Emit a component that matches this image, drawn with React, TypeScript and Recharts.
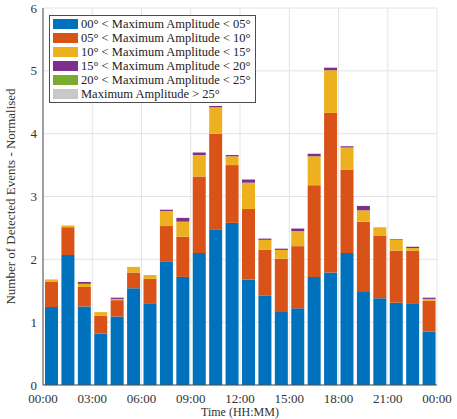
import React from "react"
import {
  BarChart,
  Bar,
  XAxis,
  YAxis,
  CartesianGrid,
} from "recharts"

// hour-of-day bin centres (each bar covers one hour)
const HOURS = [
  0.5, 1.5, 2.5, 3.5, 4.5, 5.5, 6.5, 7.5, 8.5, 9.5, 10.5, 11.5,
  12.5, 13.5, 14.5, 15.5, 16.5, 17.5, 18.5, 19.5, 20.5, 21.5, 22.5, 23.5,
]

const X_TICKS = [0, 3, 6, 9, 12, 15, 18, 21, 24]
const X_TICK_LABELS = ["00:00", "03:00", "06:00", "09:00", "12:00", "15:00", "18:00", "21:00", "00:00"]
const Y_TICKS = [0, 1, 2, 3, 4, 5, 6]

// normalised event counts per amplitude band
const AMP_00_05 = [
  1.24, 2.07, 1.25, 0.82, 1.09, 1.54, 1.3, 1.96, 1.72, 2.1, 2.48, 2.58,
  1.68, 1.42, 1.16, 1.22, 1.72, 1.79, 2.1, 1.48, 1.38, 1.31, 1.29, 0.85,
]
const AMP_05_10 = [
  0.4, 0.44, 0.31, 0.28, 0.26, 0.25, 0.39, 0.57, 0.64, 1.22, 1.52, 0.92,
  1.12, 0.73, 0.85, 0.99, 1.46, 2.54, 1.33, 1.12, 1.0, 0.83, 0.85, 0.49,
]
const AMP_10_15 = [
  0.04, 0.03, 0.05, 0.06, 0.02, 0.09, 0.06, 0.24, 0.24, 0.34, 0.42, 0.14,
  0.42, 0.16, 0.14, 0.24, 0.46, 0.68, 0.35, 0.18, 0.13, 0.17, 0.04, 0.03,
]
const AMP_15_20 = [
  0, 0, 0.03, 0, 0.02, 0, 0, 0.02, 0.06, 0.04, 0.02, 0.02,
  0.05, 0.02, 0.02, 0.04, 0.04, 0.04, 0.02, 0.07, 0, 0.01, 0.02, 0.02,
]
const AMP_20_25 = [
  0, 0, 0, 0, 0, 0, 0, 0, 0, 0, 0, 0,
  0, 0, 0, 0, 0, 0, 0, 0, 0, 0, 0, 0,
]
const AMP_OVER_25 = [
  0, 0, 0, 0, 0, 0, 0, 0, 0, 0, 0, 0,
  0, 0, 0, 0, 0, 0, 0, 0, 0, 0, 0, 0,
]

const SERIES = [
  { key: "a0", name: "00° < Maximum Amplitude < 05°", color: "#0072BD", values: AMP_00_05 },
  { key: "a1", name: "05° < Maximum Amplitude < 10°", color: "#D95319", values: AMP_05_10 },
  { key: "a2", name: "10° < Maximum Amplitude < 15°", color: "#EDB120", values: AMP_10_15 },
  { key: "a3", name: "15° < Maximum Amplitude < 20°", color: "#7E2F8E", values: AMP_15_20 },
  { key: "a4", name: "20° < Maximum Amplitude < 25°", color: "#77AC30", values: AMP_20_25 },
  { key: "a5", name: "Maximum Amplitude > 25°", color: "#c8c8c8", values: AMP_OVER_25 },
]

const data = HOURS.map((h, i) => {
  const row: Record<string, number> = { hour: h }
  SERIES.forEach((s) => {
    row[s.key] = s.values[i]
  })
  return row
})

const FONT = "'Liberation Serif', 'DejaVu Serif', serif"
const AXIS = "#4d4d4d"

// legend drawn as an overlay so it does not eat into the plot area
function LegendBox() {
  return (
    <div
      style={{
        position: "absolute",
        left: 49,
        top: 15,
        background: "#fff",
        border: `1px solid ${AXIS}`,
        padding: "1px 4px 1px 3px",
        fontFamily: FONT,
        fontSize: 12.5,
        color: "#222",
        lineHeight: "14px",
      }}
    >
      {SERIES.map((s) => (
        <div key={s.key} style={{ display: "flex", alignItems: "center", height: 14 }}>
          <span
            style={{
              display: "inline-block",
              width: 25,
              height: 10,
              background: s.color,
              marginRight: 3,
            }}
          />
          <span style={{ whiteSpace: "nowrap" }}>{s.name}</span>
        </div>
      ))}
    </div>
  )
}

export default function App() {
  return (
    <div style={{ position: "absolute", left: 0, top: 0, width: 457, height: 419, background: "#fff" }}>
      <BarChart
        width={457}
        height={419}
        data={data}
        margin={{ top: 8, right: 20, left: 0, bottom: 0 }}
      >
        <CartesianGrid stroke="#e4e4e4" />
        <XAxis
          dataKey="hour"
          type="number"
          domain={[0, 24]}
          ticks={X_TICKS}
          tickFormatter={(v: number) => X_TICK_LABELS[X_TICKS.indexOf(v)]}
          interval={0}
          height={34}
          tickLine={false}
          tickMargin={3}
          stroke={AXIS}
          tick={{ fill: "#333", fontSize: 13, fontFamily: FONT }}
          label={{
            value: "Time (HH:MM)",
            position: "insideBottom",
            offset: 3,
            style: { fill: "#333", fontSize: 12, fontFamily: FONT },
          }}
        />
        <XAxis xAxisId="top" orientation="top" type="number" domain={[0, 24]} height={0} tick={false} tickLine={false} stroke={AXIS} />
        <YAxis
          domain={[0, 6]}
          ticks={Y_TICKS}
          width={43}
          tickLine={false}
          tickSize={4}
          tickMargin={2}
          stroke={AXIS}
          tick={{ fill: "#333", fontSize: 13, fontFamily: FONT }}
          label={{
            value: "Number of Detected Events - Normalised",
            angle: -90,
            position: "insideLeft",
            offset: 10,
            style: { fill: "#333", fontSize: 13, fontFamily: FONT, textAnchor: "middle" },
          }}
        />
        <YAxis yAxisId="right" orientation="right" domain={[0, 6]} width={0} tick={false} tickLine={false} stroke={AXIS} />
        {SERIES.map((s) => (
          <Bar
            key={s.key}
            dataKey={s.key}
            name={s.name}
            stackId="amp"
            fill={s.color}
            barSize={13}
            isAnimationActive={false}
          />
        ))}
      </BarChart>
      <LegendBox />
    </div>
  )
}
